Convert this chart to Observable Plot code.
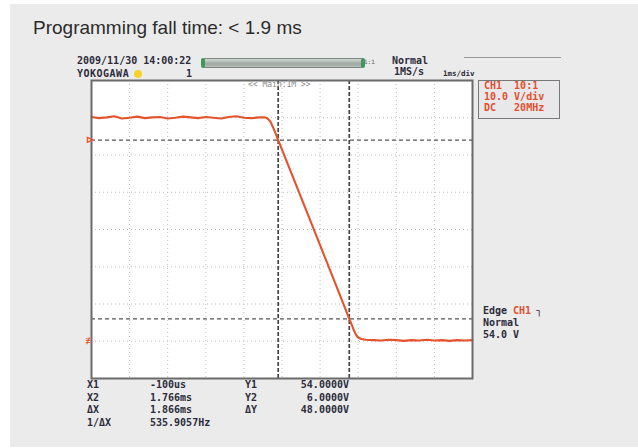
<!DOCTYPE html>
<html><head><meta charset="utf-8">
<script src="https://cdn.jsdelivr.net/npm/d3@7"></script>
<script src="https://cdn.jsdelivr.net/npm/@observablehq/plot@0.6"></script>
<style>
body{margin:0;background:#fff;}
#wrap{position:relative;width:638px;height:448px;overflow:hidden;background:#fff;}
#panel{position:absolute;left:10px;top:4px;right:0;bottom:1px;background:#ebebeb;}
#title{position:absolute;left:33px;top:18px;font:19px "Liberation Sans",Arial,sans-serif;color:#2b2b2b;line-height:19px;white-space:nowrap;}
#chart{position:absolute;left:0;top:45px;}
.osc{position:absolute;font:bold 10px "DejaVu Sans Mono",monospace;color:#2c2c3c;white-space:pre;line-height:10px;}
.red{color:#e0502e;}
#bar{position:absolute;left:202px;top:58px;width:160px;height:8px;border:1px solid #7d8883;border-radius:3px;background:linear-gradient(#d3d9d5,#9ea7a2 60%,#b6bdb9);}
#bar:before,#bar:after{content:"";position:absolute;top:-1px;width:4px;height:10px;background:#3e9a5c;border-radius:2px;}
#bar:before{left:-2px;}#bar:after{right:-2px;}
#chbox{position:absolute;left:478px;top:80px;width:80px;height:37px;border:1.5px solid #777;background:#e8e8ea;}
#topline{position:absolute;left:464px;top:57px;width:97px;height:1px;background:#9a9a9a;}
#dot{position:absolute;left:134px;top:70px;width:8px;height:8px;border-radius:50%;background:#f4d22a;}
</style></head>
<body>
<div id="wrap">
  <div id="panel"></div>
  <div id="title">Programming fall time: &lt; 1.9 ms</div>
  <div id="chart"></div>
</div>
<script>
// Trace (time in ms, voltage in V)
const traceTime = [-5,-4.8,-4.6,-4.4,-4.2,-4,-3.8,-3.6,-3.4,-3.2,-3,-2.8,-2.6,-2.4,-2.2,-2,-1.8,-1.6,-1.4,-1.2,-1,-0.8,-0.6,
  -0.45,-0.38,-0.3,-0.2,-0.1,0.5,1.0,1.5,1.766,1.85,1.9,1.95,2.0,2.08,2.2,
  2.4,2.6,2.8,3.0,3.2,3.4,3.6,3.8,4.0,4.2,4.4,4.6,4.8,5.0];
const traceVolt = [60.2,59.9,60.1,60.4,59.8,60.0,60.3,59.9,60.1,60.2,59.8,60.0,60.3,60.1,59.9,60.2,60.0,59.8,60.2,60.4,60.0,59.9,60.1,
  60.1,59.8,58.9,56.6,54.0,38.6,25.8,12.9,6.0,3.9,2.6,1.6,1.0,0.6,0.4,
  0.3,0.2,0.4,0.3,0.1,0.3,0.2,0.4,0.2,0.3,0.1,0.3,0.2,0.3];
const gridTimes = [-4,-3,-2,-1,0,1,2,3,4];
const gridVolts = [0,10,20,30,40,50,60];
const cursorTimes = [-0.1, 1.766];
const cursorVolts = [54, 6];
const levelMarkVolts = [54, 0];
const levelMarkLabels = ["⊳", "≢"];
const headerTexts = ["2009/11/30 14:00:22", "YOKOGAWA", "1", "Normal", "1MS/s", "1ms/div"];
const channelTexts = ["CH1  10:1", "10.0 V/div", "DC   20MHz"];
const triggerTexts = ["Edge", "CH1", "┐", "Normal", "54.0 V"];
const readLabels = ["X1", "X2", "ΔX", "1/ΔX"];
const readValues = ["-100us", "1.766ms", "1.866ms", "535.9057Hz"];
const readYLabels = ["Y1", "Y2", "ΔY", ""];
const readYValues = ["54.0000V", "6.0000V", "48.0000V", ""];

const trace = traceTime.map((t, i) => ({t, v: traceVolt[i]}));
const marks = levelMarkVolts.map((v, i) => ({v, label: levelMarkLabels[i]}));

const chart = Plot.plot({
  width: 638, height: 403,
  marginLeft: 91, marginRight: 166, marginTop: 35, marginBottom: 70,
  x: {domain: [-5, 5], axis: null},
  y: {domain: [-10, 70], axis: null},
  style: {background: "transparent", overflow: "visible"},
  marks: [
    Plot.frame({fill: "#fff", stroke: null}),
    Plot.ruleX(gridTimes, {stroke: "#bdbdbd", strokeDasharray: "1,3", strokeWidth: 1}),
    Plot.ruleY(gridVolts, {stroke: "#bdbdbd", strokeDasharray: "1,3", strokeWidth: 1}),
    Plot.ruleX(cursorTimes, {stroke: "#444", strokeDasharray: "4,2", strokeWidth: 1.7}),
    Plot.ruleY(cursorVolts, {stroke: "#555", strokeDasharray: "4,3", strokeWidth: 1.3}),
    Plot.line(trace, {x: "t", y: "v", stroke: "#e5532d", strokeWidth: 2.1, strokeLinejoin: "round"}),
    Plot.frame({stroke: "#6a6a6a", strokeWidth: 2}),
    Plot.text(marks, {frameAnchor: "left", y: "v", text: "label", dx: -6, fill: "#e8522c", fontSize: 10, fontWeight: "bold"})
  ]
});
document.getElementById("chart").appendChild(chart);

const wrap = document.getElementById("wrap");
function addText(txt, left, centerY, cls, extra) {
  const d = document.createElement("div");
  d.className = "osc" + (cls ? " " + cls : "");
  d.textContent = txt;
  d.style.left = left + "px";
  d.style.top = (centerY - 5) + "px";
  if (extra) Object.assign(d.style, extra);
  wrap.appendChild(d);
  return d;
}
function addDiv(id) { const d = document.createElement("div"); d.id = id; wrap.appendChild(d); return d; }

// header
addText(headerTexts[0], 77, 61);
addText(headerTexts[1], 77, 74, null, {letterSpacing: "0.5px"});
addDiv("dot");
addText(headerTexts[2], 186, 74);
addDiv("bar");
addText("1:1", 364, 62, null, {fontSize: "6px", color: "#888"});
addText(headerTexts[3], 392, 61);
addText(headerTexts[4], 394, 72);
addText(headerTexts[5], 443, 74, null, {fontSize: "7.5px"});
addDiv("topline");
addText("<< Main:1M >>", 248, 85, null, {fontSize: "8px", color: "#8a8a8a", fontWeight: "normal"});

// channel box
addDiv("chbox");
channelTexts.forEach((t, i) => addText(t, 484, 86 + i * 11, "red"));

// trigger info
addText(triggerTexts[0], 483, 311);
addText(triggerTexts[1], 513, 311, "red");
addText(triggerTexts[2], 536, 311);
addText(triggerTexts[3], 483, 323);
addText(triggerTexts[4], 483, 335);

// cursor readouts
readLabels.forEach((t, i) => {
  const cy = 385 + i * 12.5;
  addText(t, 87, cy);
  addText(readValues[i], 150, cy);
  if (readYLabels[i]) addText(readYLabels[i], 245, cy);
  if (readYValues[i]) addText(readYValues[i], 0, cy, null, {left: "auto", right: (638 - 349) + "px"});
});
</script>
</body></html>
